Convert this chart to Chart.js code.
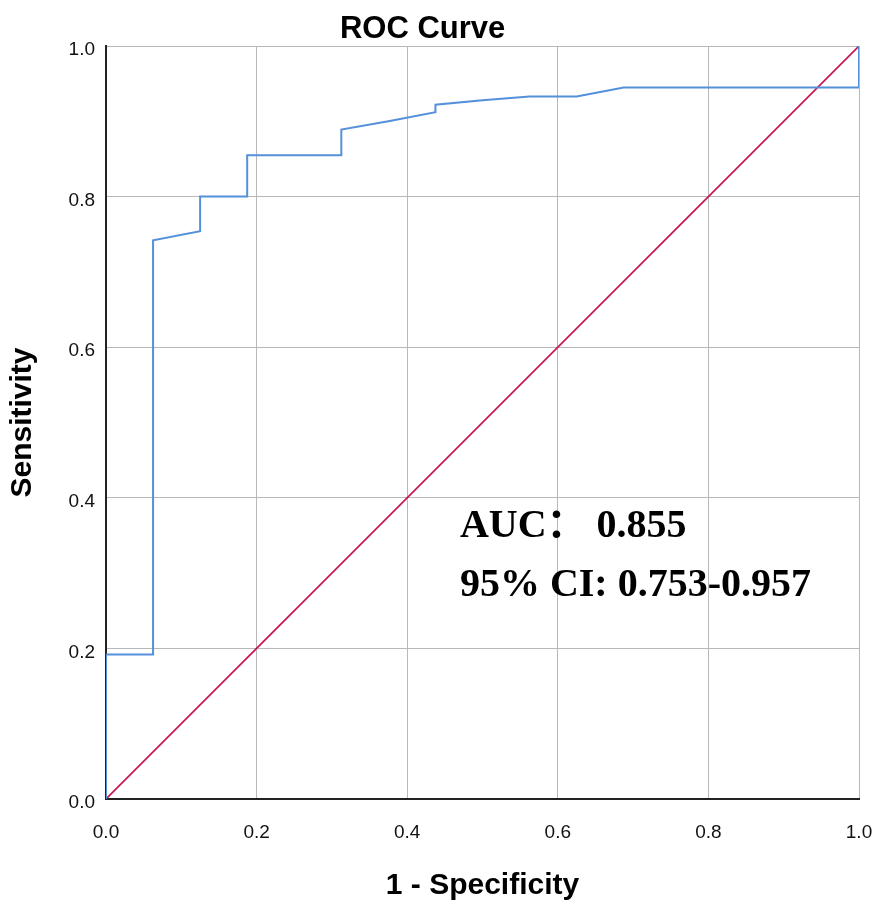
<!DOCTYPE html>
<html>
<head>
<meta charset="utf-8">
<script src="https://cdn.jsdelivr.net/npm/chart.js@4"></script>
<style>
  html, body { margin: 0; padding: 0; background: #fff; }
  #wrap { width: 886px; height: 906px; }
</style>
</head>
<body>
<div id="wrap"><canvas id="rocChart" width="886" height="906"></canvas></div>
<script>
// ROC curve (1 - specificity, sensitivity)
const fpr = [0, 0, 0.0625, 0.0625, 0.125, 0.125, 0.1875, 0.1875, 0.3125, 0.3125, 0.375, 0.4375, 0.4375, 0.5, 0.5625, 0.625, 0.6875, 1.0, 1.0];
const tpr = [0, 0.192, 0.192, 0.742, 0.754, 0.800, 0.800, 0.855, 0.855, 0.889, 0.900, 0.912, 0.922, 0.928, 0.933, 0.933, 0.945, 0.945, 1.0];
const refX = [0, 1];
const refY = [0, 1];
const tickValues = [0, 0.2, 0.4, 0.6, 0.8, 1.0];
const chartTitle = 'ROC Curve';
const xTitle = '1 - Specificity';
const yTitle = 'Sensitivity';
const noteLines = ['AUC\uFF1A 0.855', '95% CI: 0.753-0.957'];

const sansFont = '"Liberation Sans", Arial, sans-serif';
const serifFont = '"Liberation Serif", "Times New Roman", "Noto Sans CJK SC", serif';

// title is centred a bit left of the plot in the original, so draw it ourselves
const titlePlugin = {
    id: 'rocTitle',
    afterDraw(chart) {
        const ctx = chart.ctx;
        ctx.save();
        ctx.font = 'bold 31px ' + sansFont;
        ctx.fillStyle = '#000';
        ctx.textAlign = 'center';
        ctx.textBaseline = 'alphabetic';
        ctx.fillText(chartTitle, chart.width * 0.477, 38);
        ctx.restore();
    }
};

const notePlugin = {
    id: 'aucNote',
    afterDatasetsDraw(chart) {
        const { ctx, scales } = chart;
        const x = scales.x.getPixelForValue(0.470);
        const ys = [0.348, 0.269].map(v => scales.y.getPixelForValue(v));
        ctx.save();
        ctx.font = 'bold 40px ' + serifFont;
        ctx.fillStyle = '#000';
        ctx.textAlign = 'left';
        ctx.textBaseline = 'alphabetic';
        noteLines.forEach((t, i) => ctx.fillText(t, x, ys[i]));
        ctx.restore();
    }
};

new Chart(document.getElementById('rocChart'), {
    type: 'scatter',
    data: {
        datasets: [
            {
                label: 'ROC',
                data: fpr.map((x, i) => ({ x, y: tpr[i] })),
                showLine: true,
                borderColor: '#5590da',
                borderWidth: 2,
                pointRadius: 0,
                tension: 0,
                fill: false
            },
            {
                label: 'Reference',
                data: refX.map((x, i) => ({ x, y: refY[i] })),
                showLine: true,
                borderColor: '#c8124c',
                borderWidth: 1.6,
                pointRadius: 0,
                fill: false
            }
        ]
    },
    options: {
        responsive: false,
        animation: false,
        devicePixelRatio: 1,
        layout: { padding: { top: 46, right: 27, left: 0, bottom: 0 } },
        plugins: {
            legend: { display: false },
            title: { display: false },
            tooltip: { enabled: false }
        },
        scales: {
            x: {
                type: 'linear',
                min: 0,
                max: 1,
                afterBuildTicks: (s) => { s.ticks = tickValues.map(v => ({ value: v })); },
                afterFit: (s) => {
                    s.height = 107;
                    s.paddingLeft = 0;
                    s.paddingRight = 0;
                },
                grid: { color: '#b8b8b8', lineWidth: 1, drawTicks: false },
                border: { color: '#222', width: 2 },
                ticks: {
                    padding: 22,
                    color: '#111',
                    font: { family: sansFont, size: 19 },
                    callback: v => v.toFixed(1)
                },
                title: {
                    display: true,
                    text: xTitle,
                    color: '#000',
                    font: { family: sansFont, size: 30, weight: 'bold' },
                    padding: { top: 0, bottom: 2 }
                }
            },
            y: {
                type: 'linear',
                min: 0,
                max: 1,
                afterBuildTicks: (s) => { s.ticks = tickValues.map(v => ({ value: v })); },
                afterFit: (s) => {
                    s.width = 106;
                    s.paddingTop = 0;
                    s.paddingBottom = 0;
                },
                grid: { color: '#b8b8b8', lineWidth: 1, drawTicks: false },
                border: { color: '#222', width: 2 },
                ticks: {
                    padding: 11,
                    labelOffset: 4,
                    color: '#111',
                    font: { family: sansFont, size: 19 },
                    callback: v => v.toFixed(1)
                },
                title: {
                    display: true,
                    text: yTitle,
                    color: '#000',
                    font: { family: sansFont, size: 30, weight: 'bold' },
                    padding: { top: 5, bottom: 0 }
                }
            }
        }
    },
    plugins: [titlePlugin, notePlugin]
});
</script>
</body>
</html>
